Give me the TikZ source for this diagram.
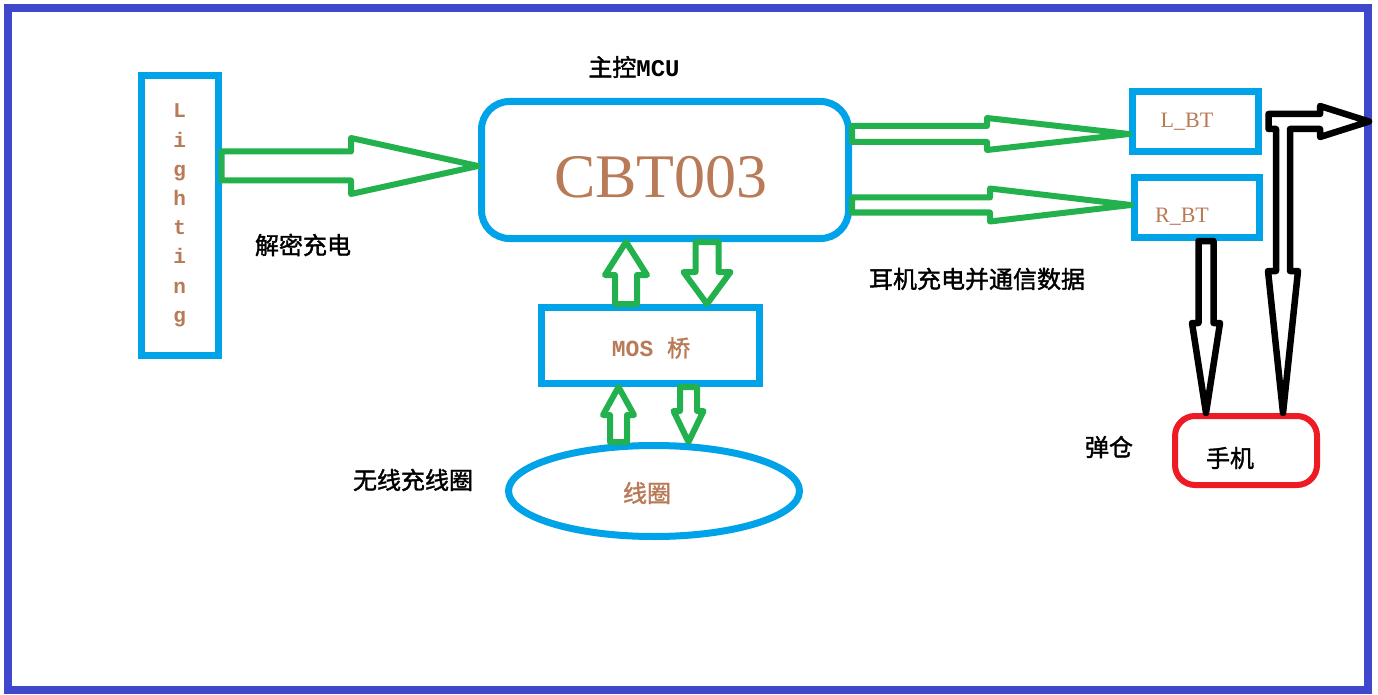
\documentclass[tikz,border=0pt]{standalone}
\usepackage{fontspec}
\usetikzlibrary{shapes.geometric,calc}
\newfontfamily\cjk[FakeBold=1.6]{Noto Sans CJK SC}
\newfontfamily\serifA{Liberation Serif}
\newfontfamily\monoA{Liberation Mono}
\definecolor{pcyan}{RGB}{0,162,232}
\definecolor{pgreen}{RGB}{34,177,76}
\definecolor{pbrown}{RGB}{185,122,87}
\definecolor{pred}{RGB}{237,28,36}
\definecolor{pblue}{RGB}{63,72,204}
\tikzset{
  cbox/.style={draw=pcyan, line width=7pt, inner sep=0pt, rectangle},
  garrow/.style={draw=pgreen, line width=6pt, line join=round},
  barrow/.style={draw=black, line width=6.5pt, line join=round},
  cjklabel/.style={font=\cjk\fontsize{24}{24}\selectfont, text=black, inner sep=0pt},
  brownt/.style={text=pbrown, inner sep=0pt},
}
% horizontal right-pointing block arrow: style, start, tip, shaft half, head half, head length
\newcommand{\rarr}[6]{\draw[#1] ([yshift=#4]#2) -- ([xshift=-#6,yshift=#4]#3) -- ([xshift=-#6,yshift=#5]#3) -- (#3) -- ([xshift=-#6,yshift=-#5]#3) -- ([xshift=-#6,yshift=-#4]#3) -- ([yshift=-#4]#2) -- cycle;}
% vertical block arrow: style, start, tip, shaft half, head half, signed head offset
\newcommand{\varr}[6]{\draw[#1] ([xshift=-#4]#2) -- ([xshift=-#4,yshift=#6]#3) -- ([xshift=-#5,yshift=#6]#3) -- (#3) -- ([xshift=#5,yshift=#6]#3) -- ([xshift=#4,yshift=#6]#3) -- ([xshift=#4]#2) -- cycle;}
\begin{document}
\begin{tikzpicture}[x=1pt,y=-1pt]
\fill[white] (0,0) rectangle (1378,695);
\useasboundingbox (0,0) rectangle (1378,695);
\node[draw=pblue, line width=8pt, minimum width=1360pt, minimum height=682pt, inner sep=0pt] (frame) at (688,349) {};

% nodes
\node[cbox, minimum width=76.5pt, minimum height=280pt, font=\monoA\bfseries\fontsize{21}{29.2}\selectfont, text=pbrown, align=center] (light) at (179.75,215.5) {L\\i\\g\\h\\t\\i\\n\\g};
\node[cbox, rounded corners=28pt, minimum width=367pt, minimum height=137pt] (cbt) at (665,170) {};
\node[brownt, font=\serifA\fontsize{62}{62}\selectfont] (cbtt) at (661,177) {CBT003};
\node[cjklabel] (mcu) at (634,67) {主控{\monoA\bfseries MCU}};
\node[cbox, minimum width=218pt, minimum height=76pt] (mos) at (650.5,345.5) {};
\node[brownt, font=\cjk\fontsize{23}{23}\selectfont] (most) at (651,348) {{\monoA\bfseries MOS }桥};
\node[draw=pcyan, line width=7pt, ellipse, minimum width=291pt, minimum height=91pt, inner sep=0pt] (coil) at (654,491) {};
\node[brownt, font=\cjk\fontsize{24}{24}\selectfont] (coilt) at (647,493) {线圈};
\node[cbox, minimum width=126pt, minimum height=60pt] (lbt) at (1195.5,121.5) {};
\node[brownt, font=\serifA\fontsize{22}{22}\selectfont] (lbtt) at (1187,122) {L\_BT};
\node[cbox, minimum width=125pt, minimum height=60pt] (rbt) at (1197,207.5) {};
\node[brownt, font=\serifA\fontsize{22}{22}\selectfont] (rbtt) at (1182,217) {R\_BT};
\node[draw=pred, line width=6pt, rounded corners=20pt, minimum width=142pt, minimum height=69pt, inner sep=0pt] (phone) at (1246,450.5) {};
\node[cjklabel] (phonet) at (1230,458) {手机};
\node[cjklabel] (dan) at (1109,447) {弹仓};
\node[cjklabel] (jiemi) at (303,245) {解密充电};
\node[cjklabel] (wuxian) at (413,480) {无线充线圈};
\node[cjklabel] (erji) at (977,279) {耳机充电并通信数据};

% green arrows
\coordinate (a1t) at (cbt.west |- 0,166);
\coordinate (a1s) at (light.east |- a1t);
\rarr{garrow}{a1s}{a1t}{14.5pt}{28pt}{127pt}
\coordinate (a2t) at (lbt.west |- 0,134);
\coordinate (a2s) at (cbt.east |- a2t);
\rarr{garrow}{a2s}{a2t}{8pt}{16pt}{142pt}
\coordinate (a3t) at (rbt.west |- 0,205);
\coordinate (a3s) at (cbt.east |- a3t);
\rarr{garrow}{a3s}{a3t}{7.5pt}{16.5pt}{141pt}

\coordinate (u1t) at (cbt.south -| 626,0);
\coordinate (u1s) at (mos.north -| u1t);
\varr{garrow}{u1s}{u1t}{11pt}{21pt}{-33pt}
\coordinate (d1t) at (mos.north -| 707,0);
\coordinate (d1s) at (cbt.south -| d1t);
\varr{garrow}{d1s}{d1t}{11.5pt}{23.5pt}{32pt}
\coordinate (u2t) at (mos.south -| 618.5,0);
\coordinate (u2s) at (coil.north -| u2t);
\varr{garrow}{u2s}{u2t}{8.5pt}{15.5pt}{-28pt}
\coordinate (d2t) at (coil.north -| 688.5,0);
\coordinate (d2s) at (mos.south -| d2t);
\varr{garrow}{d2s}{d2t}{8.5pt}{15pt}{31pt}

% black arrows
\coordinate (b1t) at (phone.north -| 1206,0);
\coordinate (b1s) at (rbt.south -| b1t);
\varr{barrow}{b1s}{b1t}{7.5pt}{14pt}{90pt}

\coordinate (bs) at ([xshift=6.5pt]lbt.east);
\coordinate (rt) at ([xshift=-3pt]frame.east |- bs);
\coordinate (dt) at (phone.north -| 1283,0);
\coordinate (jn) at (dt |- bs);
\draw[barrow] ([yshift=7.5pt]bs) -- ([xshift=-49pt,yshift=7.5pt]rt) -- ([xshift=-49pt,yshift=15.5pt]rt) -- (rt) -- ([xshift=-49pt,yshift=-15.5pt]rt) -- ([xshift=-49pt,yshift=-7.5pt]rt) -- ([xshift=7pt,yshift=-7.5pt]jn) -- ([xshift=7pt,yshift=142pt]dt) -- ([xshift=15pt,yshift=142pt]dt) -- (dt) -- ([xshift=-15pt,yshift=142pt]dt) -- ([xshift=-7pt,yshift=142pt]dt) -- ([xshift=-7pt,yshift=-7.5pt]jn) -- ([yshift=-7.5pt]bs) -- cycle;
\end{tikzpicture}
\end{document}
